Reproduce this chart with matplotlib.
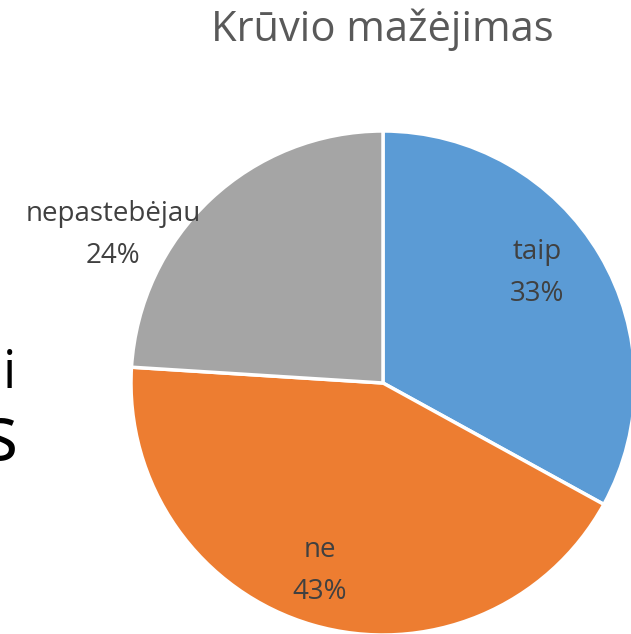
import matplotlib
matplotlib.use("Agg")
import matplotlib.pyplot as plt

# data
labels = ["taip", "ne", "nepastebėjau"]
shares = [33, 43, 24]
colors = ["#5B9BD5", "#ED7D31", "#A5A5A5"]
title = "Krūvio mažėjimas"

plt.rcParams['font.family'] = ['Open Sans', 'DejaVu Sans']

W, H = 631, 634
fig = plt.figure(figsize=(W / 100, H / 100), dpi=100)

# pie centre (383, 383) px from top-left, radius 252 px
cx, cy, r = 383, 383, 252
ax = fig.add_axes([(cx - r) / W, (H - cy - r) / H, 2 * r / W, 2 * r / H])
ax.axis('off')

wedges, _ = ax.pie(shares, colors=colors, startangle=90, counterclock=False,
                   radius=1, center=(0, 0), frame=False,
                   wedgeprops=dict(edgecolor='white', linewidth=2.5))
ax.set_xlim(-1, 1)
ax.set_ylim(-1, 1)
ax.set_aspect('auto')

# label positions (px offsets from centre, as in the reference)
offsets = [(154, -110), (-63, 188), (-270, -148)]
for lab, v, (dx, dy) in zip(labels, shares, offsets):
    ax.text(dx / r, -dy / r, f"{lab}\n{v}%", ha='center', va='center',
            fontsize=20, color='#404040', linespacing=1.65)

fig.text(382 / W, 1 - 30 / H, title, ha='center', va='center',
         fontsize=30, color='#595959')

# fragments of slide text behind the chart
fig.text(16 / W, 1 - 388 / H, "i", ha='right', va='baseline', fontsize=38, color='black')
fig.text(17 / W, 1 - 460 / H, "s", ha='right', va='baseline', fontsize=55, color='black')

fig.savefig("out.png", dpi=100)
